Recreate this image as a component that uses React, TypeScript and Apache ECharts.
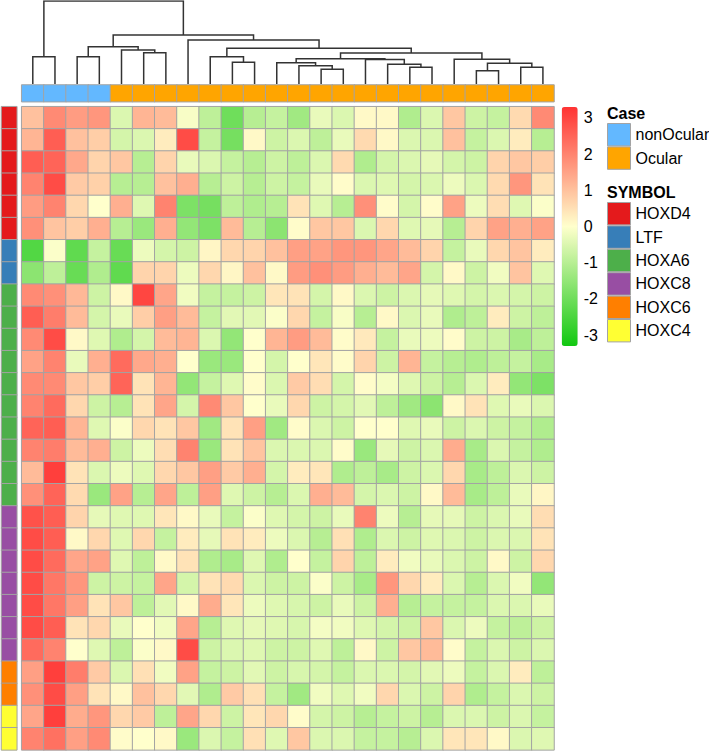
import React, { useEffect, useRef } from 'react';
import * as echarts from 'echarts';

// ---------------- data ----------------
const colNames = ['S01','S02','S03','S04','S05','S06','S07','S08','S09','S10','S11','S12','S13','S14','S15','S16','S17','S18','S19','S20','S21','S22','S23','S24'];
const colCase = ['nonOcular','nonOcular','nonOcular','nonOcular','Ocular','Ocular','Ocular','Ocular','Ocular','Ocular','Ocular','Ocular','Ocular','Ocular','Ocular','Ocular','Ocular','Ocular','Ocular','Ocular','Ocular','Ocular','Ocular','Ocular'];
const caseLevels = ['nonOcular', 'Ocular'];
const caseColors = ['#63B8FF', '#FFA500'];

const rowSymbol = [
  'HOXD4','HOXD4','HOXD4','HOXD4','HOXD4','HOXD4',
  'LTF','LTF',
  'HOXA6','HOXA6','HOXA6','HOXA6','HOXA6','HOXA6','HOXA6','HOXA6','HOXA6','HOXA6',
  'HOXC8','HOXC8','HOXC8','HOXC8','HOXC8','HOXC8','HOXC8',
  'HOXC6','HOXC6',
  'HOXC4','HOXC4',
];
const symbolLevels = ['HOXD4', 'LTF', 'HOXA6', 'HOXC8', 'HOXC6', 'HOXC4'];
const symbolColors = ['#E41A1C', '#377EB8', '#4DAF4A', '#984EA3', '#FF7F00', '#FFFF33'];

const colorTicks = [-3, -2, -1, 0, 1, 2, 3];
const colorMin = -3.3;
const colorMax = 3.3;
const rampColors = ['#11C811', '#FFFFCC', '#FF3333'];

// scaled expression, rows top->bottom, columns left->right
const values = [
  [1.0,1.9,1.6,1.7,-0.5,1.2,1.1,-0.1,-0.9,-2.0,-1.0,-0.8,-1.3,-0.3,-0.5,0.1,0.1,-1.1,-0.5,0.9,-0.7,-0.8,0.6,1.9],
  [1.2,2.6,1.0,0.8,-0.6,-0.5,0.3,2.9,-0.8,-1.9,0.1,-0.7,-0.5,-0.9,-0.3,0.6,0.1,-0.5,-0.5,1.0,-0.8,-0.5,0.3,-1.0],
  [2.6,2.5,1.4,0.7,0.9,-1.0,0.7,-0.3,-0.5,-0.8,-1.0,-0.7,-0.9,-0.5,0.6,-1.1,-0.6,-0.5,-0.35,-0.6,-0.7,0.7,0.9,0.8],
  [2.0,2.9,0.85,0.75,-1.0,-1.0,1.0,1.3,-1.0,-0.7,-1.0,-0.7,-0.8,-0.3,0.05,-0.5,-0.45,-0.6,-0.5,-0.25,-0.5,0.6,1.7,0.45],
  [1.6,2.0,0.65,0.0,1.3,-0.45,2.0,-1.8,-1.9,-0.9,-1.1,-1.0,0.45,-0.45,-1.0,1.8,0.05,-0.6,0.05,1.5,-0.25,0.55,-0.45,-0.05],
  [1.8,0.95,0.8,1.3,-1.0,-1.4,1.3,-1.5,-1.8,1.1,-1.0,-1.6,0.05,0.9,0.9,-0.5,0.65,-0.45,-0.35,-1.0,0.7,1.5,1.3,1.5],
  [-2.4,-0.05,-2.2,-0.8,-2.1,-0.25,-0.6,-0.7,0.15,0.65,0.7,1.0,1.55,1.5,1.7,1.7,1.45,1.1,0.7,-0.8,-0.3,0.65,0.95,0.3],
  [-1.6,-0.9,-2.1,-1.1,-2.2,0.7,0.7,-0.25,0.65,0.15,1.0,0.1,1.6,1.8,1.6,1.3,1.1,1.45,-0.6,0.1,-0.7,-0.2,0.95,-0.45],
  [1.9,1.8,1.15,-0.7,0.1,3.0,1.45,-0.2,-0.8,-0.8,-0.7,0.4,0.45,-0.6,0.1,-0.5,-0.7,-0.5,-0.35,-0.45,-0.6,-0.5,-0.6,-0.7],
  [2.6,2.1,1.1,-0.6,-0.3,0.8,1.55,1.1,-0.8,-0.4,-0.4,-0.05,0.65,-0.8,-0.1,-1.0,0.1,-0.5,-0.3,-1.1,-0.9,0.3,-0.7,-0.9],
  [1.9,2.9,0.1,-0.45,-1.1,-0.6,1.1,1.2,-0.5,-1.5,0.0,1.2,1.6,1.1,0.05,0.35,-0.8,-0.3,-0.25,0.05,-0.7,-0.7,-1.2,-0.9],
  [1.5,2.0,-0.3,1.3,2.4,1.4,1.3,0.0,-1.4,-1.4,0.0,-0.6,0.0,0.4,0.05,0.7,-0.7,1.2,-0.8,-1.0,-1.1,-0.9,-0.8,-1.2],
  [1.9,1.9,0.9,0.8,2.5,0.45,1.2,-1.5,-0.8,-0.45,0.05,-0.5,0.85,0.55,-0.6,0.05,-0.15,-0.45,-0.7,-1.0,-0.5,0.3,-1.5,-1.8],
  [2.0,2.4,0.65,-0.7,-1.0,0.45,1.45,-0.6,1.9,0.9,0.0,-0.3,0.65,-0.7,-0.6,-0.4,-0.9,-1.3,-1.6,0.1,0.45,-0.45,-0.3,-0.5],
  [2.5,2.6,1.2,-0.45,-0.05,0.65,0.45,0.9,-1.3,0.45,1.55,-1.3,0.05,-0.5,-0.7,0.0,0.0,-0.45,-0.3,-0.7,-0.5,-0.7,-0.8,-1.1],
  [2.0,2.1,1.1,1.3,-0.7,-0.25,0.55,2.0,-1.4,0.45,0.95,-0.5,-0.5,-0.5,0.05,-1.4,-0.35,-0.7,-0.5,1.35,-1.2,-0.5,-0.8,-1.1],
  [1.1,3.1,0.45,-0.5,-0.25,-0.45,0.65,0.9,1.55,0.85,1.3,-0.6,0.3,0.4,-1.1,-0.9,-1.2,-0.7,-0.5,0.65,-1.2,-0.9,-0.5,-0.7],
  [1.8,2.5,0.6,-1.4,1.5,-1.0,1.45,-0.9,1.55,-0.45,-0.7,-1.0,-0.5,1.3,1.1,-0.6,-0.5,-0.7,0.1,1.1,-1.2,-0.9,-0.3,0.15],
  [2.8,2.6,0.7,-0.35,-0.45,-0.45,0.4,0.1,-0.3,-0.8,-0.05,-0.45,-0.6,-0.7,-0.3,2.0,-0.25,-1.0,-0.35,-0.35,-0.7,-0.5,-0.3,0.55],
  [2.9,2.6,0.1,0.65,-0.45,0.65,-0.8,0.3,-0.35,0.45,0.3,-0.25,-0.5,-1.0,0.5,-1.1,-0.5,-0.7,-0.45,-0.5,-0.7,-0.5,-0.5,0.45],
  [2.9,2.4,1.45,1.5,-0.45,-0.9,0.1,0.45,-1.1,-1.2,-0.45,-1.1,0.0,-0.8,0.7,-0.9,0.3,-0.2,-0.3,-0.5,-0.7,0.1,-0.7,0.65],
  [2.9,2.2,1.7,-0.7,-0.7,-0.8,1.45,-0.6,0.45,0.6,-0.5,-0.7,-0.7,-0.05,-0.7,-1.2,1.7,0.65,0.3,-0.5,-1.0,-0.5,-0.2,-1.5],
  [2.9,2.2,1.55,0.45,0.9,-0.9,-0.4,0.1,1.35,0.4,-0.25,-0.45,-0.55,-0.7,-0.3,-0.7,1.3,-1.0,-0.8,-0.8,-0.8,-0.5,-0.5,-0.3],
  [2.9,2.6,0.45,0.65,-0.3,0.0,-0.2,1.45,-1.0,-0.45,-0.35,-0.45,-0.55,-0.15,-0.2,-0.45,-0.6,-0.7,0.9,-0.5,-0.25,-0.8,-0.9,-0.7],
  [2.4,2.0,0.0,-0.45,-0.9,-0.05,0.1,2.9,-0.7,-0.5,-0.45,-0.7,-0.7,-0.45,-0.9,0.1,-0.7,0.9,1.1,0.05,-0.8,-0.5,-0.7,-0.5],
  [1.55,3.1,2.1,0.85,-0.5,0.5,-0.2,1.5,-0.8,-0.7,-0.4,-0.7,-0.55,-0.6,-0.8,-0.5,-0.5,-0.6,-0.4,-0.25,-0.8,-0.5,0.3,-0.9],
  [1.8,2.9,1.55,0.45,0.1,1.0,0.65,-0.4,-1.1,0.85,0.5,-0.8,-1.3,-0.2,-0.45,-0.2,0.65,-0.5,-0.7,0.7,-1.1,-0.8,-0.5,-0.7],
  [1.45,3.1,1.35,1.7,0.65,0.85,-0.9,1.45,0.65,-0.7,0.4,0.65,0.05,-0.6,-0.7,-1.0,-0.8,-0.7,-1.0,-0.5,-0.5,-0.7,-0.5,-0.8],
  [2.0,2.3,1.55,1.9,0.05,0.0,0.1,-1.4,-0.5,-0.8,0.5,-0.45,0.9,-0.5,-0.5,-0.8,-0.8,-1.0,-0.5,0.4,0.4,0.1,-0.5,-0.45],
];

// column dendrogram, hclust-style merges: negative = leaf (column -id-1), positive = earlier merge (1-based)
const dendroMerge = [
  [-1, -2], [-3, -4], [-6, -7], [-5, 3], [2, 4],
  [-10, -11], [-9, 6], [-14, -15], [-13, 8], [-12, 9],
  [-18, -19], [-17, 11], [-16, 12], [10, 13], [-21, -22],
  [-23, -24], [15, 16], [-20, 17], [14, 18], [7, 19],
  [-8, 20], [5, 21], [1, 22],
];
const dendroHeight = [
  27.3, 27.3, 31.3, 34, 37.3,
  21.7, 27.3, 14.7, 18.3, 21.3,
  16.7, 19.7, 24.5, 25.3, 13.3,
  16.7, 20.7, 24.7, 31, 35.7,
  44, 49, 83,
];

// ---------------- layout constants ----------------
const FONT = 'Liberation Sans, Arial, Helvetica, sans-serif';
const HM_LEFT = 21.7;
const HM_TOP = 106.7;
const HM_W = 532.3;
const HM_H = 643.2;
const BORDER = '#A3A3A3';

function buildOption() {
  const rowIds = rowSymbol.map((s, i) => `${s}_${i + 1}`);

  const hmData: any[] = [];
  values.forEach((row, r) => row.forEach((v, c) => hmData.push([c, r, v])));

  const annoColors = [...caseColors, ...symbolColors];

  const caseSeries = caseLevels.map((lv, k) => ({
    type: 'heatmap',
    name: lv,
    xAxisIndex: 1,
    yAxisIndex: 1,
    data: colCase.map((cs, c) => (cs === lv ? [c, 0, k] : null)).filter(Boolean),
    itemStyle: { color: caseColors[k], borderColor: BORDER, borderWidth: 1 },
    emphasis: { disabled: true },
    progressive: 0,
  }));

  const symSeries = symbolLevels.map((lv, k) => ({
    type: 'heatmap',
    name: lv,
    xAxisIndex: 2,
    yAxisIndex: 2,
    data: rowSymbol.map((s, r) => (s === lv ? [0, r, caseLevels.length + k] : null)).filter(Boolean),
    itemStyle: { color: symbolColors[k], borderColor: BORDER, borderWidth: 1 },
    emphasis: { disabled: true },
    progressive: 0,
  }));

  const annoSeriesIdx = [...caseSeries, ...symSeries].map((_, i) => i + 1);

  // dendrogram segments
  const nodeX: number[] = [];
  const nodeH: number[] = [];
  const pos = (id: number) => (id < 0 ? [-id - 1 + 0.5, 0] : [nodeX[id - 1], nodeH[id - 1]]);
  const segs: any[] = [];
  dendroMerge.forEach(([a, b], i) => {
    const [xa, ha] = pos(a);
    const [xb, hb] = pos(b);
    const h = dendroHeight[i];
    nodeX[i] = (xa + xb) / 2;
    nodeH[i] = h;
    segs.push({ coords: [[xa, ha], [xa, h], [xb, h], [xb, hb]] });
  });

  const hiddenCat = (data: string[], inverse = false) => ({
    type: 'category', data, show: false, inverse,
  });

  return {
    animation: false,
    textStyle: { fontFamily: FONT },
    grid: [
      { left: HM_LEFT, top: HM_TOP, width: HM_W, height: HM_H },
      { left: HM_LEFT, top: 85, width: HM_W, height: 16.7 },
      { left: 1.5, top: HM_TOP, width: 15.3, height: HM_H },
      { left: HM_LEFT, top: 1, width: HM_W, height: 83 },
      { left: 561.7, top: 107, width: 16, height: 239 },
    ],
    xAxis: [
      { ...hiddenCat(colNames), gridIndex: 0 },
      { ...hiddenCat(colNames), gridIndex: 1 },
      { ...hiddenCat(['SYMBOL']), gridIndex: 2 },
      { type: 'value', min: 0, max: colNames.length, show: false, gridIndex: 3 },
      { ...hiddenCat(['']), gridIndex: 4 },
    ],
    yAxis: [
      { ...hiddenCat(rowIds, true), gridIndex: 0 },
      { ...hiddenCat(['Case']), gridIndex: 1 },
      { ...hiddenCat(rowIds, true), gridIndex: 2 },
      { type: 'value', min: 0, max: 83, show: false, gridIndex: 3 },
      {
        type: 'value', gridIndex: 4, min: colorMin, max: colorMax, position: 'right',
        axisLine: { show: false }, axisTick: { show: false }, splitLine: { show: false },
        axisLabel: {
          customValues: colorTicks, margin: 6, fontSize: 16, color: '#000', fontFamily: FONT,
          align: 'left',
        },
      },
    ],
    visualMap: [
      {
        type: 'continuous',
        seriesIndex: 0,
        min: colorMin,
        max: colorMax,
        calculable: false,
        hoverLink: false,
        orient: 'vertical',
        left: 561.7,
        top: 107,
        itemWidth: 16,
        itemHeight: 239,
        padding: 0,
        inRange: { color: rampColors },
      },
      {
        type: 'piecewise',
        show: false,
        seriesIndex: annoSeriesIdx,
        pieces: annoColors.map((c, i) => ({ value: i, color: c })),
      },
    ],
    legend: [
      {
        data: caseLevels,
        orient: 'vertical', left: 607, top: 123, padding: 0,
        itemWidth: 23, itemHeight: 22.4, itemGap: 0, icon: 'rect',
        itemStyle: { borderColor: BORDER, borderWidth: 1 },
        textStyle: { fontSize: 16, color: '#000', fontFamily: FONT },
        selectedMode: false,
      },
      {
        data: symbolLevels,
        orient: 'vertical', left: 607, top: 202, padding: 0,
        itemWidth: 23, itemHeight: 22.4, itemGap: 0, icon: 'rect',
        itemStyle: { borderColor: BORDER, borderWidth: 1 },
        textStyle: { fontSize: 16, color: '#000', fontFamily: FONT },
        selectedMode: false,
      },
    ],
    graphic: [
      { type: 'text', x: 607, y: 113, style: { text: 'Case', font: `bold 16px ${FONT}`, fill: '#000', verticalAlign: 'middle' } },
      { type: 'text', x: 607, y: 192, style: { text: 'SYMBOL', font: `bold 16px ${FONT}`, fill: '#000', verticalAlign: 'middle' } },
    ],
    series: [
      {
        type: 'heatmap',
        name: 'expression',
        xAxisIndex: 0,
        yAxisIndex: 0,
        data: hmData,
        itemStyle: { borderColor: BORDER, borderWidth: 1 },
        emphasis: { disabled: true },
        progressive: 0,
      },
      ...caseSeries,
      ...symSeries,
      {
        type: 'lines',
        name: 'dendrogram',
        coordinateSystem: 'cartesian2d',
        xAxisIndex: 3,
        yAxisIndex: 3,
        polyline: true,
        silent: true,
        data: segs,
        lineStyle: { color: '#333', width: 1.5, opacity: 1 },
      },
    ],
  };
}

export default function App() {
  const ref = useRef<HTMLDivElement>(null);
  useEffect(() => {
    if (!ref.current) return;
    const chart = echarts.init(ref.current, undefined, { renderer: 'svg' });
    chart.setOption(buildOption() as any);
    return () => chart.dispose();
  }, []);
  return (
    <div
      ref={ref}
      style={{ position: 'absolute', left: 0, top: 0, width: 709, height: 752, background: '#fff' }}
    />
  );
}
